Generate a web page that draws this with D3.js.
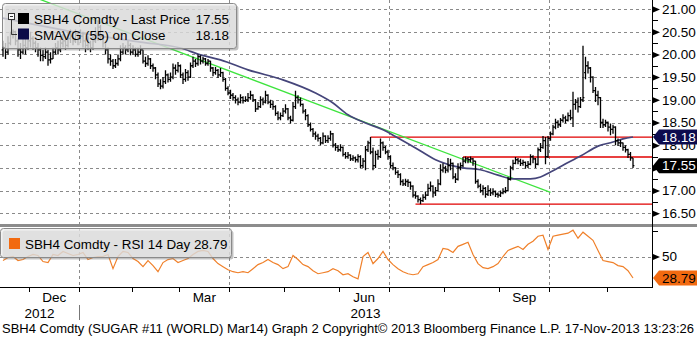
<!DOCTYPE html>
<html>
<head>
<meta charset="utf-8">
<script src="https://cdn.jsdelivr.net/npm/d3@7"></script>
<style>
  body { margin: 0; background: #fff; }
  svg { display: block; }
  text { font-family: "Liberation Sans", Arial, sans-serif; }
</style>
</head>
<body>
<svg id="chart" width="697" height="339"></svg>
<script>
// ---- SBH4 Comdty daily bars, 15-Nov-2012 .. 15-Nov-2013 (ICE trading days) ----
const holidays = ["2012-11-22","2012-12-25","2013-01-01","2013-01-21","2013-02-18",
                  "2013-03-29","2013-05-27","2013-07-04","2013-09-02"];

const opens = [
  20.10,20.15,20.05,20.25,20.45,20.50,20.30,20.10,20.05,20.20,
  20.15,20.30,20.35,20.25,20.15,20.10,19.98,19.95,20.05,19.88,
  19.90,20.05,20.15,20.10,20.25,20.30,20.20,20.35,20.40,20.30,
  20.45,20.35,20.40,20.30,20.20,20.25,20.15,20.30,20.45,20.60,
  20.40,20.25,20.10,19.90,19.85,19.75,19.80,19.90,20.05,20.15,
  20.10,20.20,20.05,20.10,20.00,20.05,20.10,19.85,19.80,19.90,
  19.75,19.70,19.55,19.35,19.30,19.40,19.55,19.45,19.50,19.70,
  19.65,19.75,19.55,19.45,19.60,19.50,19.75,19.85,19.80,19.95,
  19.85,19.90,19.80,19.85,19.70,19.60,19.65,19.55,19.60,19.45,
  19.25,19.15,19.10,19.05,19.00,18.95,19.05,18.98,19.00,19.05,
  19.10,19.00,18.80,18.85,19.00,18.95,19.10,18.95,18.90,18.85,
  18.70,18.60,18.65,18.75,18.80,18.60,18.55,18.85,19.05,19.00,
  18.90,18.75,18.65,18.45,18.35,18.25,18.20,18.15,18.05,18.20,
  18.10,18.15,18.25,18.00,17.95,17.90,17.95,17.80,17.75,17.78,
  17.70,17.72,17.68,17.75,17.55,17.65,17.90,18.05,17.85,17.55,
  17.80,17.75,18.05,17.95,17.85,17.75,17.55,17.50,17.40,17.35,
  17.20,17.15,17.20,17.18,17.10,16.90,16.88,16.80,16.78,16.85,
  16.90,17.05,17.10,16.95,17.00,17.15,17.45,17.50,17.45,17.55,
  17.60,17.30,17.25,17.50,17.55,17.65,17.70,17.68,17.70,17.65,
  17.20,17.10,17.00,17.05,16.92,17.00,16.95,16.98,16.92,16.90,
  16.95,16.98,17.00,17.25,17.50,17.60,17.68,17.65,17.60,17.62,
  17.55,17.58,17.75,17.70,17.58,17.90,17.95,18.10,17.75,18.15,
  18.25,18.40,18.50,18.45,18.55,18.60,18.55,18.65,18.60,18.90,
  18.95,18.85,19.00,19.60,19.75,19.70,19.50,19.20,19.10,19.05,
  18.50,18.45,18.50,18.40,18.35,18.40,18.10,18.05,18.05,17.95,
  17.90,17.80,17.72
];
const highs = [
  20.30,20.25,20.40,20.50,20.55,20.52,20.35,20.25,20.35,20.35,
  20.45,20.50,20.40,20.30,20.25,20.15,20.10,20.15,20.10,20.05,
  20.15,20.25,20.30,20.40,20.45,20.40,20.50,20.55,20.50,20.55,
  20.50,20.55,20.50,20.35,20.40,20.30,20.40,20.60,20.75,20.65,
  20.45,20.30,20.15,20.00,19.90,19.90,20.00,20.20,20.25,20.20,
  20.30,20.25,20.20,20.15,20.15,20.20,20.10,19.95,19.98,19.92,
  19.80,19.72,19.60,19.45,19.50,19.65,19.58,19.60,19.80,19.78,
  19.83,19.78,19.60,19.68,19.65,19.82,19.95,19.90,20.00,19.98,
  19.95,19.92,19.90,19.86,19.72,19.72,19.68,19.70,19.62,19.48,
  19.30,19.22,19.15,19.10,19.05,19.12,19.08,19.08,19.15,19.20,
  19.12,19.02,18.95,19.08,19.05,19.20,19.12,19.00,18.98,18.88,
  18.75,18.72,18.82,18.90,18.82,18.65,18.95,19.20,19.10,19.05,
  18.92,18.80,18.68,18.50,18.38,18.30,18.25,18.18,18.28,18.22,
  18.22,18.32,18.27,18.05,18.00,18.02,17.97,17.85,17.85,17.80,
  17.78,17.75,17.80,17.78,17.72,17.98,18.10,18.18,17.95,17.88,
  17.90,18.15,18.08,17.98,17.90,17.78,17.62,17.52,17.45,17.38,
  17.25,17.26,17.25,17.20,17.12,16.98,16.90,16.85,16.92,16.98,
  17.15,17.20,17.12,17.08,17.25,17.58,17.60,17.55,17.72,17.70,
  17.62,17.38,17.60,17.62,17.74,17.75,17.74,17.75,17.72,17.66,
  17.25,17.15,17.12,17.08,17.12,17.05,17.05,17.00,16.96,17.00,
  17.05,17.08,17.30,17.55,17.68,17.74,17.72,17.70,17.68,17.64,
  17.65,17.80,17.78,17.72,17.95,18.05,18.20,18.18,18.20,18.30,
  18.45,18.58,18.55,18.60,18.68,18.65,18.72,18.78,19.18,19.02,
  19.05,19.06,20.19,19.95,19.85,19.72,19.52,19.28,19.20,19.06,
  18.58,18.56,18.52,18.48,18.45,18.42,18.15,18.12,18.06,18.00,
  17.92,17.85,17.72
];
const lows = [
  19.95,19.90,20.00,20.20,20.35,20.20,19.95,19.90,20.00,20.00,
  20.10,20.15,20.10,20.05,19.95,19.85,19.85,19.90,19.75,19.80,
  19.90,20.00,20.00,20.05,20.15,20.10,20.15,20.25,20.20,20.25,
  20.20,20.25,20.15,20.05,20.10,20.05,20.10,20.25,20.30,20.30,
  20.15,20.00,19.80,19.75,19.68,19.70,19.75,19.85,20.00,20.00,
  20.05,19.98,20.00,19.95,19.95,20.00,19.80,19.72,19.75,19.68,
  19.62,19.45,19.28,19.23,19.25,19.35,19.38,19.40,19.45,19.55,
  19.60,19.48,19.35,19.40,19.42,19.48,19.70,19.72,19.75,19.78,
  19.80,19.75,19.75,19.62,19.52,19.55,19.48,19.50,19.40,19.20,
  19.10,19.02,18.98,18.92,18.88,18.92,18.92,18.95,18.95,19.00,
  18.95,18.73,18.78,18.82,18.88,18.92,18.90,18.82,18.78,18.65,
  18.55,18.55,18.62,18.70,18.55,18.48,18.52,18.80,18.92,18.85,
  18.70,18.55,18.40,18.30,18.18,18.12,18.08,18.00,18.02,18.05,
  18.05,18.10,17.95,17.88,17.85,17.86,17.75,17.70,17.70,17.65,
  17.65,17.62,17.62,17.50,17.50,17.45,17.85,17.80,17.45,17.50,
  17.68,17.72,17.88,17.80,17.68,17.50,17.45,17.35,17.28,17.12,
  17.10,17.10,17.08,17.02,16.85,16.82,16.74,16.70,16.75,16.80,
  16.88,16.98,16.85,16.88,16.98,17.12,17.40,17.38,17.40,17.45,
  17.25,17.17,17.22,17.45,17.52,17.60,17.60,17.62,17.55,17.15,
  17.05,16.95,16.90,16.84,16.88,16.88,16.90,16.86,16.84,16.86,
  16.92,16.94,16.98,17.22,17.45,17.58,17.58,17.54,17.55,17.48,
  17.50,17.56,17.60,17.50,17.56,17.85,17.92,17.58,17.72,18.10,
  18.22,18.35,18.38,18.40,18.50,18.48,18.52,18.55,18.40,18.78,
  18.72,18.82,18.95,19.45,19.58,19.38,19.15,18.95,18.88,18.38,
  18.38,18.40,18.30,18.22,18.25,18.00,17.98,17.96,17.88,17.84,
  17.72,17.66,17.50
];
const closes = [
  20.15,20.05,20.25,20.45,20.50,20.30,20.10,20.05,20.20,20.15,
  20.30,20.35,20.25,20.15,20.10,19.98,19.95,20.05,19.88,19.90,
  20.05,20.15,20.10,20.25,20.30,20.20,20.35,20.40,20.30,20.45,
  20.35,20.40,20.30,20.20,20.25,20.15,20.30,20.45,20.60,20.40,
  20.25,20.10,19.90,19.85,19.75,19.80,19.90,20.05,20.15,20.10,
  20.20,20.05,20.10,20.00,20.05,20.10,19.85,19.80,19.90,19.75,
  19.70,19.55,19.35,19.30,19.40,19.55,19.45,19.50,19.70,19.65,
  19.75,19.55,19.45,19.60,19.50,19.75,19.85,19.80,19.95,19.85,
  19.90,19.80,19.85,19.70,19.60,19.65,19.55,19.60,19.45,19.25,
  19.15,19.10,19.05,19.00,18.95,19.05,18.98,19.00,19.05,19.10,
  19.00,18.80,18.85,19.00,18.95,19.10,18.95,18.90,18.85,18.70,
  18.60,18.65,18.75,18.80,18.60,18.55,18.85,19.05,19.00,18.90,
  18.75,18.65,18.45,18.35,18.25,18.20,18.15,18.05,18.20,18.10,
  18.15,18.25,18.00,17.95,17.90,17.95,17.80,17.75,17.78,17.70,
  17.72,17.68,17.75,17.55,17.65,17.90,18.05,17.85,17.55,17.80,
  17.75,18.05,17.95,17.85,17.75,17.55,17.50,17.40,17.35,17.20,
  17.15,17.20,17.18,17.10,16.90,16.88,16.80,16.78,16.85,16.90,
  17.05,17.10,16.95,17.00,17.15,17.45,17.50,17.45,17.55,17.60,
  17.30,17.25,17.50,17.55,17.65,17.70,17.68,17.70,17.65,17.20,
  17.10,17.00,17.05,16.92,17.00,16.95,16.98,16.92,16.90,16.95,
  16.98,17.00,17.25,17.50,17.60,17.68,17.65,17.60,17.62,17.55,
  17.58,17.75,17.70,17.58,17.90,17.95,18.10,17.75,18.15,18.25,
  18.40,18.50,18.45,18.55,18.60,18.55,18.65,18.60,18.90,18.95,
  18.85,19.00,19.05,19.75,19.70,19.50,19.20,19.10,19.05,18.50,
  18.45,18.50,18.40,18.35,18.40,18.10,18.05,18.05,17.95,17.90,
  17.80,17.72,17.55
];

// 55-day simple moving average of the close, read at these bar numbers
const smaBar   = [0, 31, 55, 71, 79, 87, 98, 112, 125, 132, 138, 145, 152, 158, 165,
                  173, 184, 191, 198, 204, 211, 215, 219, 224, 231, 238, 244, 248, 252];
const smaValue = [20.80, 20.47, 20.27, 20.14, 19.99, 19.88, 19.66, 19.44, 19.15, 18.93,
                  18.67, 18.49, 18.34, 18.16, 17.94, 17.68, 17.50, 17.46, 17.34, 17.26,
                  17.26, 17.30, 17.41, 17.56, 17.76, 17.98, 18.07, 18.14, 18.18];

// 14-day RSI, every second bar
const rsiValue = [
  46,49,50,46,47,50,52,51,45,44,
  52,51,55,53,51,52,54,47,49,50,
  50,52,38,50,55,54,48,45,40,46,
  41,35,44,47,48,44,46,48,52,55,
  56,55,48,43,40,37,35,34,35,34,
  38,42,44,47,44,42,38,40,51,47,
  42,40,36,33,34,35,38,36,32,33,
  30,28,50,54,43,48,55,47,42,38,
  35,33,32,33,40,42,44,47,58,57,
  54,60,62,64,52,43,39,38,40,43,
  50,56,58,60,57,62,65,70,71,57,
  70,71,72,73,76,68,74,70,66,56,
  46,45,44,41,40,36,28.79
];

// drawn trend line (bar, price) and horizontal levels (start bar, price)
const trendBar = [0, 219];
const trendPrice = [21.52, 16.96];
const levelBar = [147, 184, 165];
const levelPrice = [18.18, 17.74, 16.70];

const priceTicks = [16.5, 17, 17.5, 18, 18.5, 19, 19.5, 20, 20.5, 21];
const monthLabels = {11: "Dec", 2: "Mar", 5: "Jun", 8: "Sep"};
const lastPrice = 17.55, lastSma = 18.18, lastRsi = 28.79;

// ---- trading calendar ----
const fmt = d3.utcFormat("%Y-%m-%d");
const days = d3.utcDay.range(new Date(Date.UTC(2012, 10, 15)), new Date(Date.UTC(2013, 10, 16)))
  .filter(d => d.getUTCDay() % 6 !== 0 && !holidays.includes(fmt(d)));
const keys = days.map(fmt);
const bars = keys.map((k, i) => ({k, d: days[i], o: opens[i], h: highs[i], l: lows[i], c: closes[i]}));

// ---- layout ----
const AX = 652;                 // right axis line
const P_TOP = 0, P_BOT = 224;   // price panel
const R_TOP = 228, R_BOT = 287; // RSI panel

const svg = d3.select("#chart");
const x = d3.scalePoint().domain(keys).range([3, 633]);
const step = x.step();
const y = d3.scaleLinear().domain([16.5, 21]).range([213.3, 9]);
const yR = d3.scaleLinear().domain([0, 100]).range([307.2, 205.8]);

const defs = svg.append("defs");
defs.append("clipPath").attr("id", "clipP").append("rect")
  .attr("x", 0).attr("y", P_TOP).attr("width", AX).attr("height", P_BOT - P_TOP);
defs.append("clipPath").attr("id", "clipR").append("rect")
  .attr("x", 0).attr("y", R_TOP).attr("width", AX).attr("height", R_BOT - R_TOP);

// month boundaries (first trading day of each month)
const monthStarts = bars.map((b, i) => ({b, i}))
  .filter(({b, i}) => i > 0 && b.d.getUTCMonth() !== bars[i - 1].d.getUTCMonth())
  .map(({b}) => ({d: b.d, xb: x(b.k) - step / 2}));
const quarterStarts = monthStarts.filter(m => m.d.getUTCMonth() % 3 === 0);

const grid = svg.append("g").attr("stroke", "#8a8a8a").attr("stroke-width", 1)
  .attr("stroke-dasharray", "3,3").attr("fill", "none");
// horizontal price grid
grid.selectAll(".hp").data(priceTicks).join("line")
  .attr("x1", 0).attr("x2", AX)
  .attr("y1", d => Math.round(y(d)) + 0.5).attr("y2", d => Math.round(y(d)) + 0.5);
// RSI 50 line
grid.append("line").attr("x1", 0).attr("x2", AX)
  .attr("y1", Math.round(yR(50)) + 0.5).attr("y2", Math.round(yR(50)) + 0.5);
// quarterly vertical grid in both panels
quarterStarts.forEach(q => {
  const xx = Math.round(q.xb) + 0.5;
  grid.append("line").attr("x1", xx).attr("x2", xx).attr("y1", P_TOP).attr("y2", P_BOT);
  grid.append("line").attr("x1", xx).attr("x2", xx).attr("y1", R_TOP).attr("y2", R_BOT);
});

// ---- price panel ----
const pg = svg.append("g").attr("clip-path", "url(#clipP)");

// red levels
pg.selectAll(".lvl").data(levelPrice).join("line")
  .attr("x1", (d, i) => x(keys[levelBar[i]])).attr("x2", AX)
  .attr("y1", d => y(d)).attr("y2", d => y(d))
  .attr("stroke", "#e00000").attr("stroke-width", 1.3);

// green trend line
pg.append("line")
  .attr("x1", x(keys[trendBar[0]])).attr("y1", y(trendPrice[0]))
  .attr("x2", x(keys[trendBar[1]])).attr("y2", y(trendPrice[1]))
  .attr("stroke", "#3ee43e").attr("stroke-width", 1.3);

// moving average
pg.append("path")
  .datum(smaBar.map((b, i) => [x(keys[b]), y(smaValue[i])]))
  .attr("d", d3.line().curve(d3.curveMonotoneX))
  .attr("fill", "none").attr("stroke", "#45457a").attr("stroke-width", 1.7);

// OHLC bars
const barG = pg.append("g").attr("stroke", "#000").attr("stroke-width", 1.3).attr("fill", "none");
barG.selectAll("path").data(bars).join("path")
  .attr("d", b => {
    const xx = x(b.k);
    return `M${xx},${y(b.h)}V${y(b.l)}M${xx - 1.4},${y(b.o)}H${xx}M${xx},${y(b.c)}H${xx + 1.4}`;
  });

// panel separator
svg.append("rect").attr("x", 0).attr("y", 224).attr("width", 697).attr("height", 3).attr("fill", "#8c8c8c");

// ---- RSI panel ----
const rg = svg.append("g").attr("clip-path", "url(#clipR)");
rg.append("path")
  .datum(rsiValue.map((v, i) => [x(keys[i * 2]), yR(v)]))
  .attr("d", d3.line())
  .attr("fill", "none").attr("stroke", "#f0802a").attr("stroke-width", 1.2);

// ---- legends ----
function legendBox(x0, y0, w, h) {
  svg.append("rect").attr("x", x0 + 2).attr("y", y0 + 2).attr("width", w).attr("height", h)
    .attr("rx", 3).attr("fill", "#777").attr("opacity", 0.45);
  svg.append("rect").attr("x", x0).attr("y", y0).attr("width", w).attr("height", h)
    .attr("rx", 3).attr("fill", "#ededed").attr("fill-opacity", 0.7)
    .attr("stroke", "#8a8a8a").attr("stroke-width", 1);
}
legendBox(2.5, 3.5, 234, 45);
// tree icon
svg.append("rect").attr("x", 8.5).attr("y", 13.5).attr("width", 6).attr("height", 6)
  .attr("fill", "#fff").attr("stroke", "#333");
svg.append("path").attr("d", "M10,16.5H13M11.5,19.5V34.5H17").attr("stroke", "#333").attr("fill", "none");
svg.append("rect").attr("x", 18).attr("y", 13).attr("width", 11).attr("height", 11).attr("fill", "#000");
svg.append("rect").attr("x", 18).attr("y", 28.5).attr("width", 11).attr("height", 11).attr("fill", "#0b0b48");
const legFont = 13.4;
svg.append("text").attr("x", 34).attr("y", 24).attr("font-size", legFont).text("SBH4 Comdty - Last Price");
svg.append("text").attr("x", 229).attr("y", 24).attr("font-size", legFont).attr("text-anchor", "end")
  .text(d3.format(".2f")(lastPrice));
svg.append("text").attr("x", 34).attr("y", 40).attr("font-size", legFont).text("SMAVG (55) on Close");
svg.append("text").attr("x", 229).attr("y", 40).attr("font-size", legFont).attr("text-anchor", "end")
  .text(d3.format(".2f")(lastSma));

legendBox(0.5, 228.5, 231, 29);
svg.append("rect").attr("x", 9).attr("y", 238).attr("width", 11).attr("height", 11).attr("fill", "#f26a10");
svg.append("text").attr("x", 25).attr("y", 249).attr("font-size", legFont)
  .text("SBH4 Comdty - RSI 14 Day " + d3.format(".2f")(lastRsi));

// ---- right axis ----
svg.append("line").attr("x1", AX + 0.5).attr("x2", AX + 0.5).attr("y1", 0).attr("y2", R_BOT)
  .attr("stroke", "#000");
const pAxis = svg.append("g").attr("transform", `translate(${AX},0)`)
  .call(d3.axisRight(y).tickValues(priceTicks).tickSize(0).tickPadding(10).tickFormat(d3.format(".2f")));
pAxis.select(".domain").remove();
pAxis.selectAll("text").attr("font-size", 13.5).attr("fill", "#000")
  .attr("font-family", '"Liberation Sans", Arial, sans-serif');
pAxis.selectAll(".tick").append("path").attr("d", "M1,-3L8,0L1,3Z").attr("fill", "#000");
// minor ticks
svg.append("g").selectAll("line").data(d3.range(16.75, 21, 0.5)).join("line")
  .attr("x1", AX).attr("x2", AX + 6).attr("y1", d => Math.round(y(d)) + 0.5).attr("y2", d => Math.round(y(d)) + 0.5)
  .attr("stroke", "#000");

const rAxis = svg.append("g").attr("transform", `translate(${AX},0)`)
  .call(d3.axisRight(yR).tickValues([50]).tickSize(0).tickPadding(10).tickFormat(d3.format("d")));
rAxis.select(".domain").remove();
rAxis.selectAll("text").attr("font-size", 13.5).attr("fill", "#000")
  .attr("font-family", '"Liberation Sans", Arial, sans-serif');
rAxis.selectAll(".tick").append("path").attr("d", "M1,-3L8,0L1,3Z").attr("fill", "#000");
svg.append("line").attr("x1", AX).attr("x2", AX + 6)
  .attr("y1", Math.round(yR(75)) + 0.5).attr("y2", Math.round(yR(75)) + 0.5).attr("stroke", "#000");

// last-value tags
function tag(v, yy, fill, color) {
  const h = 7.5;
  svg.append("path")
    .attr("d", `M${AX + 1},${yy}L${AX + 7},${yy - h}H697V${yy + h}H${AX + 7}Z`)
    .attr("fill", fill);
  svg.append("text").attr("x", 662).attr("y", yy + 4.8).attr("font-size", 13.5)
    .attr("fill", color).text(d3.format(".2f")(v));
}
tag(lastSma, y(lastSma), "#0c0c4e", "#fff");
tag(lastPrice, y(lastPrice), "#000", "#fff");
tag(lastRsi, yR(lastRsi), "#f26a10", "#000");

// ---- time axis ----
svg.append("line").attr("x1", 0).attr("x2", AX + 1).attr("y1", R_BOT + 0.5).attr("y2", R_BOT + 0.5)
  .attr("stroke", "#000");
svg.append("g").selectAll("line").data(monthStarts).join("line")
  .attr("x1", m => Math.round(m.xb) + 0.5).attr("x2", m => Math.round(m.xb) + 0.5)
  .attr("y1", R_BOT).attr("y2", R_BOT + 5).attr("stroke", "#000");

const bounds = [0, ...monthStarts.map(m => m.xb), AX];
monthStarts.forEach((m, i) => {
  const lab = monthLabels[m.d.getUTCMonth()];
  if (!lab) return;
  const cx = (m.xb + bounds[i + 2]) / 2;
  svg.append("text").attr("x", cx).attr("y", 302).attr("text-anchor", "middle")
    .attr("font-size", 13.5).text(lab);
});
// year labels centred on the visible part of each year
const jan = monthStarts.find(m => m.d.getUTCMonth() === 0);
svg.append("text").attr("x", jan.xb / 2).attr("y", 318).attr("text-anchor", "middle")
  .attr("font-size", 13.5).text("2012");
svg.append("text").attr("x", (jan.xb + AX) / 2).attr("y", 318).attr("text-anchor", "middle")
  .attr("font-size", 13.5).text("2013");
svg.append("line").attr("x1", Math.round(jan.xb) + 0.5).attr("x2", Math.round(jan.xb) + 0.5)
  .attr("y1", 305).attr("y2", 320).attr("stroke", "#777");

// footer
svg.append("text").attr("x", 2).attr("y", 333).attr("font-size", 13)
  .attr("textLength", 692).attr("lengthAdjust", "spacingAndGlyphs")
  .text("SBH4 Comdty (SUGAR #11 (WORLD) Mar14) Graph 2  Copyright\u00A9 2013 Bloomberg Finance L.P.  17-Nov-2013 13:23:26");
</script>
</body>
</html>
